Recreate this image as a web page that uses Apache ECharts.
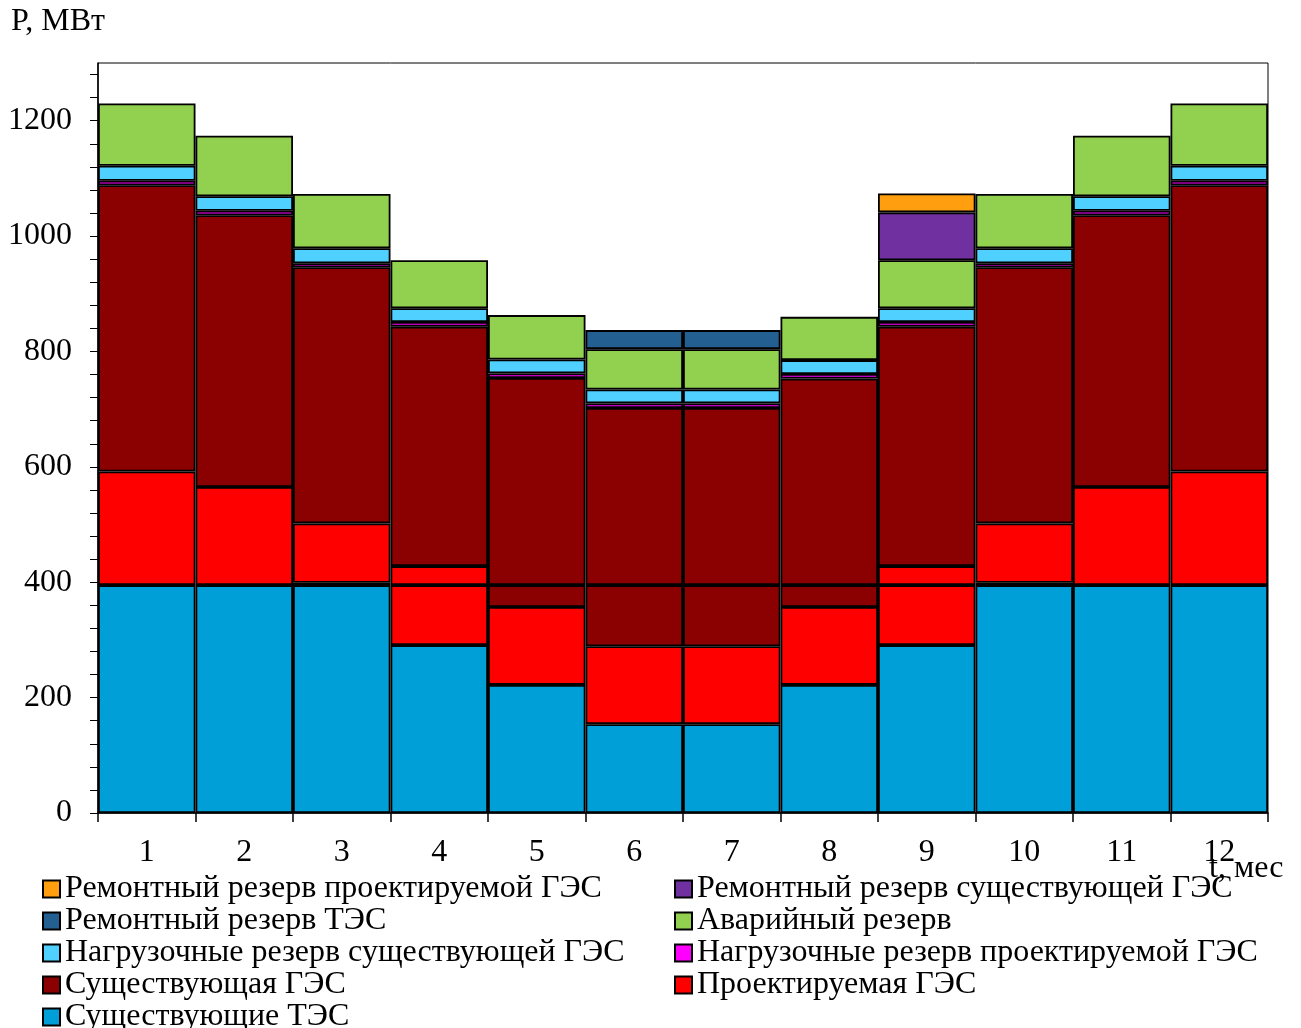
<!DOCTYPE html>
<html>
<head>
<meta charset="utf-8">
<script src="https://cdn.jsdelivr.net/npm/echarts@6/dist/echarts.min.js"></script>
<style>
  html, body { margin: 0; padding: 0; background: #fff; }
  #chart { width: 1301px; height: 1028px; }
</style>
</head>
<body>
<div id="chart"></div>
<script>
// Months
const months = ['1', '2', '3', '4', '5', '6', '7', '8', '9', '10', '11', '12'];

// Segment heights, MW (stacked bottom to top)
const tesExisting      = [395, 395, 395, 291, 222, 154, 154, 222, 291, 395, 395, 395]; // Существующие ТЭС
const gesProjectedBase = [0, 0, 0, 104, 135, 135, 135, 135, 104, 0, 0, 0];             // Проектируемая ГЭС (база)
const gesExistingBase  = [0, 0, 4, 0, 38, 106, 106, 38, 0, 4, 0, 0];                   // Существующая ГЭС (база)
const gesProjectedPeak = [197, 170, 103, 33, 0, 0, 0, 0, 33, 103, 170, 197];           // Проектируемая ГЭС (пик)
const gesExistingPeak  = [496, 471, 444, 415, 359, 307, 307, 358, 415, 444, 471, 496]; // Существующая ГЭС (пик)
const loadResProjected = [8, 8, 7, 8, 8, 8, 8, 8, 8, 7, 8, 8];                         // Нагрузочный резерв проектируемой ГЭС
const loadResExisting  = [26, 25, 26, 24, 24, 24, 24, 24, 24, 26, 25, 26];             // Нагрузочный резерв существующей ГЭС
const emergencyRes     = [108, 105, 94, 83, 77, 70, 70, 75, 83, 94, 105, 108];          // Аварийный резерв
const repairResTes     = [0, 0, 0, 0, 0, 33, 33, 0, 0, 0, 0, 0];                        // Ремонтный резерв ТЭС
const repairResExist   = [0, 0, 0, 0, 0, 0, 0, 0, 83, 0, 0, 0];                         // Ремонтный резерв существующей ГЭС
const repairResProj    = [0, 0, 0, 0, 0, 0, 0, 0, 33, 0, 0, 0];                         // Ремонтный резерв проектируемой ГЭС

// Y-axis tick and label values
const yTickValues  = [0, 40, 80, 120, 160, 200, 240, 280, 320, 360, 400, 440, 480, 520, 560, 600, 640, 680, 720, 760, 800, 840, 880, 920, 960, 1000, 1040, 1080, 1120, 1160, 1200, 1240, 1280];
const yLabelValues = [0, 200, 400, 600, 800, 1000, 1200];

const N_TES = 'Существующие ТЭС';
const N_PGES = 'Проектируемая ГЭС';
const N_SGES = 'Существующая ГЭС';
const N_LRP = 'Нагрузочные резерв проектируемой ГЭС';
const N_LRE = 'Нагрузочные резерв существующей ГЭС';
const N_EM = 'Аварийный резерв';
const N_RT = 'Ремонтный резерв ТЭС';
const N_RE = 'Ремонтный резерв существующей ГЭС';
const N_RP = 'Ремонтный резерв проектируемой ГЭС';

const FONT = '"Liberation Serif", "Times New Roman", serif';
const FS = 32;

function bar(name, data, color) {
  return {
    name: name,
    type: 'bar',
    stack: 'total',
    barCategoryGap: 0,
    data: data.map(v => (v === 0 ? '-' : v)),
    itemStyle: { color: color, borderColor: '#000', borderWidth: 1.8 },
    emphasis: { disabled: true }
  };
}

const series = [
  bar(N_TES, tesExisting, '#009FD7'),
  bar(N_PGES, gesProjectedBase, '#FF0000'),
  bar(N_SGES, gesExistingBase, '#8B0000'),
  bar(N_PGES, gesProjectedPeak, '#FF0000'),
  bar(N_SGES, gesExistingPeak, '#8B0000'),
  bar(N_LRP, loadResProjected, '#FF00FF'),
  bar(N_LRE, loadResExisting, '#4FD0FF'),
  bar(N_EM, emergencyRes, '#92D050'),
  bar(N_RT, repairResTes, '#245F91'),
  bar(N_RE, repairResExist, '#7030A0'),
  bar(N_RP, repairResProj, '#FF9F10')
];

const legendCommon = {
  orient: 'vertical',
  top: 873,
  height: 170,
  padding: 0,
  itemGap: 0,
  itemWidth: 17,
  itemHeight: 17,
  icon: 'rect',
  selectedMode: false,
  textStyle: { fontFamily: FONT, fontSize: FS, color: '#000', lineHeight: 32, padding: [0, 0, 0, 0] }
};

const chart = echarts.init(document.getElementById('chart'), null, { renderer: 'canvas' });
chart.setOption({
  animation: false,
  backgroundColor: '#fff',
  grid: {
    left: 98, right: 33, top: 63, bottom: 215,
    show: true, borderColor: '#000', borderWidth: 1, backgroundColor: 'transparent'
  },
  legend: [
    Object.assign({}, legendCommon, { left: 42, data: [N_RP, N_RT, N_LRE, N_SGES, N_TES] }),
    Object.assign({}, legendCommon, { left: 674, data: [N_RE, N_EM, N_LRP, N_PGES] })
  ],
  xAxis: {
    type: 'category',
    data: months,
    axisLine: { lineStyle: { color: '#000', width: 1.5 } },
    axisTick: { show: true, length: 9, lineStyle: { color: '#000', width: 1.5 } },
    axisLabel: { fontFamily: FONT, fontSize: FS, color: '#000', margin: 24 }
  },
  yAxis: {
    type: 'value',
    min: 0,
    max: 1300,
    interval: 200,
    axisLine: { show: true, lineStyle: { color: '#000', width: 1.5 } },
    axisTick: { show: true, length: 8, customValues: yTickValues, lineStyle: { color: '#000', width: 1 } },
    axisLabel: {
      fontFamily: FONT, fontSize: FS, color: '#000', margin: 26,
      customValues: yLabelValues,
      formatter: v => String(v)
    },
    splitLine: { show: false }
  },
  graphic: [
    { type: 'text', left: 11, top: 6, style: { text: 'P, МВт', font: FS + 'px ' + FONT, fill: '#000' } },
    { type: 'text', left: 1209, top: 853, style: { text: 't, мес', font: FS + 'px ' + FONT, fill: '#000' } }
  ],
  series: series
});
</script>
</body>
</html>
